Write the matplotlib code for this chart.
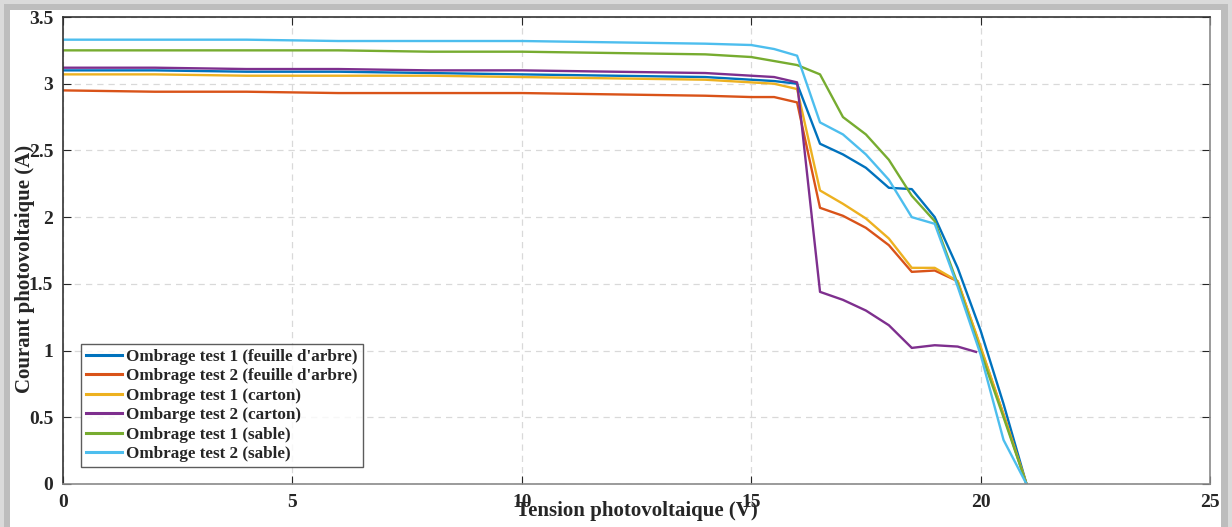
import matplotlib
matplotlib.use("Agg")
import matplotlib.pyplot as plt
from matplotlib.patches import Rectangle

plt.rcParams['font.family'] = ['Liberation Serif', 'DejaVu Serif']
plt.rcParams['font.weight'] = 'bold'

# tension (V) and courant (A) for each shading test
v_full = [0, 2, 4, 6, 8, 10, 12, 14, 15, 15.5, 16, 16.5, 17, 17.5, 18, 18.5, 19, 19.5, 20, 20.5, 21]
i_feuille1 = [3.10, 3.10, 3.09, 3.09, 3.08, 3.07, 3.06, 3.05, 3.03, 3.02, 3.00, 2.55, 2.47, 2.37, 2.22, 2.21, 2.00, 1.62, 1.15, 0.60, 0.0]
i_feuille2 = [2.95, 2.94, 2.94, 2.93, 2.93, 2.93, 2.92, 2.91, 2.90, 2.90, 2.86, 2.07, 2.01, 1.92, 1.79, 1.59, 1.60, 1.52, 1.02, 0.52, 0.0]
i_carton1 = [3.07, 3.07, 3.06, 3.06, 3.06, 3.05, 3.04, 3.03, 3.01, 3.00, 2.96, 2.20, 2.10, 1.99, 1.84, 1.62, 1.62, 1.52, 1.03, 0.52, 0.0]
v_carton2 = [0, 2, 4, 6, 8, 10, 12, 14, 15, 15.5, 16, 16.5, 17, 17.5, 18, 18.5, 19, 19.5, 19.9]
i_carton2 = [3.12, 3.12, 3.11, 3.11, 3.10, 3.10, 3.09, 3.08, 3.06, 3.05, 3.01, 1.44, 1.38, 1.30, 1.19, 1.02, 1.04, 1.03, 0.99]
i_sable1 = [3.25, 3.25, 3.25, 3.25, 3.24, 3.24, 3.23, 3.22, 3.20, 3.17, 3.14, 3.07, 2.75, 2.62, 2.43, 2.16, 1.97, 1.50, 0.99, 0.50, 0.0]
i_sable2 = [3.33, 3.33, 3.33, 3.32, 3.32, 3.32, 3.31, 3.30, 3.29, 3.26, 3.21, 2.71, 2.62, 2.47, 2.28, 2.00, 1.95, 1.48, 0.97, 0.33, 0.0]

labels = ["Ombrage test 1 (feuille d'arbre)", "Ombrage test 2 (feuille d'arbre)",
          "Ombrage test 1 (carton)", "Ombarge test 2 (carton)",
          "Ombrage test 1 (sable)", "Ombrage test 2 (sable)"]
colors = ['#0072BD', '#D95319', '#EDB120', '#7E2F8E', '#77AC30', '#4DBEEE']

fig = plt.figure(figsize=(12.32, 5.27), dpi=100, facecolor='#c4c4c4')
# drop-shadow style frame around the white panel
fig.patches.append(Rectangle((0, 0), 1, 1, transform=fig.transFigure,
                             facecolor='#dadada', edgecolor='none', zorder=-3))
fig.patches.append(Rectangle((4 / 1232, 0), 1224 / 1232, 523 / 527, transform=fig.transFigure,
                             facecolor='#bdbdbd', edgecolor='none', zorder=-2))
fig.patches.append(Rectangle((10 / 1232, 0), 1211 / 1232, 517 / 527, transform=fig.transFigure,
                             facecolor='white', edgecolor='none', zorder=-1))

ax = fig.add_axes([63 / 1232, 43 / 527, 1147 / 1232, 467 / 527])

series = [(v_full, i_feuille1), (v_full, i_feuille2), (v_full, i_carton1),
          (v_carton2, i_carton2), (v_full, i_sable1), (v_full, i_sable2)]
for (v, i), lab, c in zip(series, labels, colors):
    ax.plot(v, i, color=c, lw=1.7, label=lab)

ax.set_xlim(0, 25)
ax.set_ylim(0, 3.5)
ax.set_xticks([0, 5, 10, 15, 20, 25])
ax.set_yticks([0, 0.5, 1, 1.5, 2, 2.5, 3, 3.5])
ax.set_yticklabels(['0', '0.5', '1', '1.5', '2', '2.5', '3', '3.5'])
ax.tick_params(direction='in', length=6, width=0.8, colors='#262626', labelsize=14,
               top=True, right=True, pad=7)
ax.grid(True, ls=(0, (5, 4)), color='#d9d9d9', lw=0.9)
for side, col in [('left', '#333333'), ('top', '#333333'), ('bottom', '#8a8a8a'), ('right', '#8a8a8a')]:
    ax.spines[side].set_color(col)
    ax.spines[side].set_linewidth(1.2)

ax.set_xlabel('Tension photovoltaique (V)', fontsize=15, fontweight='bold', color='#262626')
ax.xaxis.set_label_coords(0.5, -0.058)
ax.xaxis.label.set_va('center')
ax.set_ylabel('Courant photovoltaique (A)', fontsize=15, fontweight='bold', color='#262626')
ax.yaxis.set_label_coords(-0.033, 0.46)
ax.yaxis.label.set_va('center')

leg = ax.legend(loc='lower left', bbox_to_anchor=(0.0157, 0.036), borderaxespad=0,
                fontsize=12.3, frameon=True, fancybox=False, handlelength=2.1,
                handletextpad=0.25, labelspacing=0.2, borderpad=0.3)
leg.get_frame().set_edgecolor('#333333')
leg.get_frame().set_linewidth(1.0)
for line in leg.get_lines():
    line.set_linewidth(2.2)
for t in leg.get_texts():
    t.set_fontweight('bold')
    t.set_color('#262626')

fig.savefig('out.png', dpi=100, facecolor=fig.get_facecolor())
